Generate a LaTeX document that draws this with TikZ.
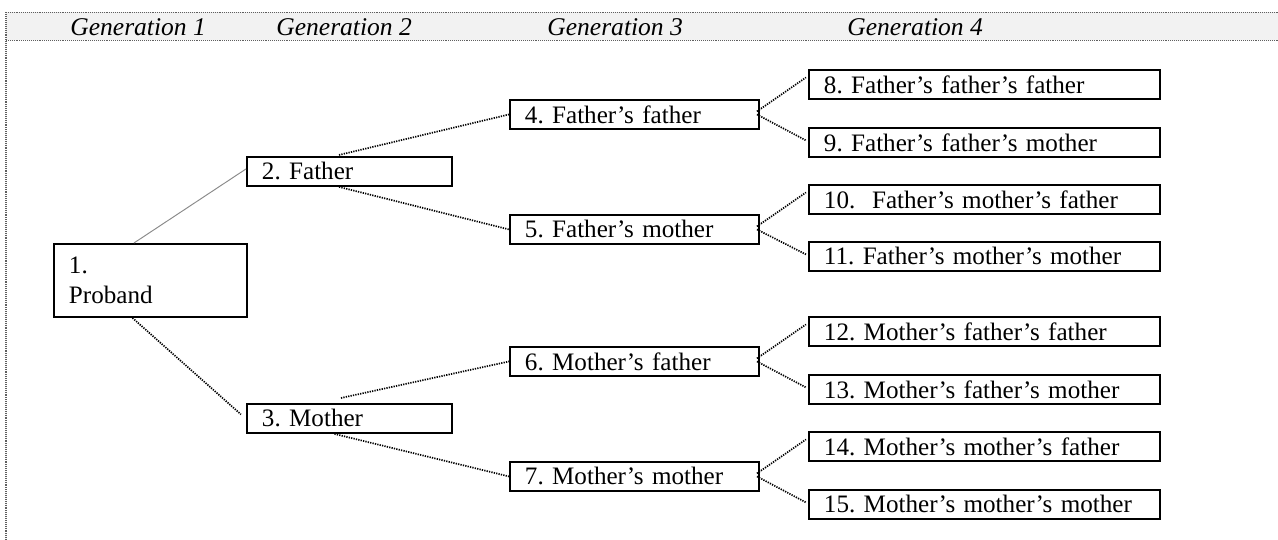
\documentclass[tikz,border=0pt]{standalone}
\usepackage{fontspec}
\setmainfont{Liberation Serif}
\usetikzlibrary{calc}
\definecolor{bandgray}{HTML}{F2F2F2}
\definecolor{rulegray}{HTML}{5F5F5F}
\definecolor{linkgray}{HTML}{8A8A8A}
\begin{document}
\frenchspacing
\begin{tikzpicture}[x=0.47pt, y=-0.47pt,
  box/.style={draw, line width=0.9pt, anchor=north west, inner xsep=7.05pt, inner ysep=0pt,
    minimum height=13.63pt, align=left, font=\frenchspacing\fontsize{11.8}{14.1}\selectfont},
  rootbox/.style={box, text width=76.61pt, minimum height=34.31pt},
  gtwo/.style={box, text width=82.25pt},
  gthree/.style={box, text width=102.93pt},
  gfour/.style={box, text width=150.87pt},
  hdr/.style={anchor=base west, inner sep=0pt, font=\itshape\fontsize{12}{14}\selectfont},
  frameline/.style={draw=rulegray, line width=0.55pt, dash pattern=on 0.45pt off 0.45pt},
  dotlink/.style={draw=black, line width=0.8pt, dash pattern=on 0.6pt off 0.55pt},
  solidlink/.style={draw=linkgray, line width=0.45pt}]
\useasboundingbox (0,0) rectangle (1278,540);
% header band
\fill[bandgray] (6,12.5) rectangle (1278,40.5);
\draw[frameline] (6,12.5) -- (1278,12.5);
\draw[frameline] (6,40.5) -- (1278,40.5);
\draw[frameline] (6,12.5) -- (6,540);
\node[hdr] (h1) at (70,36) {Generation 1};
\node[hdr] (h2) at (276,36) {Generation 2};
\node[hdr] (h3) at (547,36) {Generation 3};
\node[hdr] (h4) at (847,36) {Generation 4};
% boxes
\node[rootbox] (b1) at (53,243) {1.\\Proband};
\node[gtwo] (b2) at (246,156) {2. Father};
\node[gtwo] (b3) at (246,403) {3. Mother};
\node[gthree] (b4) at (509,99) {4. Father’s father};
\node[gthree] (b5) at (509,214) {5. Father’s mother};
\node[gthree] (b6) at (509,346) {6. Mother’s father};
\node[gthree] (b7) at (509,461) {7. Mother’s mother};
\node[gfour] (b8) at (808,69) {8. Father’s father’s father};
\node[gfour] (b9) at (808,127) {9. Father’s father’s mother};
\node[gfour] (b10) at (808,184) {10.\ \ Father’s mother’s father};
\node[gfour] (b11) at (808,241) {11. Father’s mother’s mother};
\node[gfour] (b12) at (808,316) {12. Mother’s father’s father};
\node[gfour] (b13) at (808,374) {13. Mother’s father’s mother};
\node[gfour] (b14) at (808,431) {14. Mother’s mother’s father};
\node[gfour] (b15) at (808,489) {15. Mother’s mother’s mother};
% connectors
\draw[solidlink] ($(b1.north)+(-16.5,0)$) -- ($(b2.west)+(0,-2.5)$);
\draw[dotlink] ($(b1.south)+(-18,0)$) -- ($(b3.west)+(-5,-4)$);
\draw[dotlink] ($(b2.north)+(-10.5,-1)$) -- (b4.west);
\draw[dotlink] ($(b2.south)+(-10.5,0)$) -- (b5.west);
\draw[dotlink] ($(b3.north)+(-8.5,-5)$) -- (b6.west);
\draw[dotlink] ($(b3.south)+(-15,0)$) -- (b7.west);
\foreach \p/\a/\b in {b4/b8/b9, b5/b10/b11, b6/b12/b13, b7/b14/b15}{
  \draw[dotlink] ($(\p.east)+(-3,-3)$) -- ($(\a.west)+(-2,-7)$);
  \draw[dotlink] ($(\p.east)+(-3,0)$) -- ($(\b.west)+(-2,-2)$);
}
\end{tikzpicture}
\end{document}
